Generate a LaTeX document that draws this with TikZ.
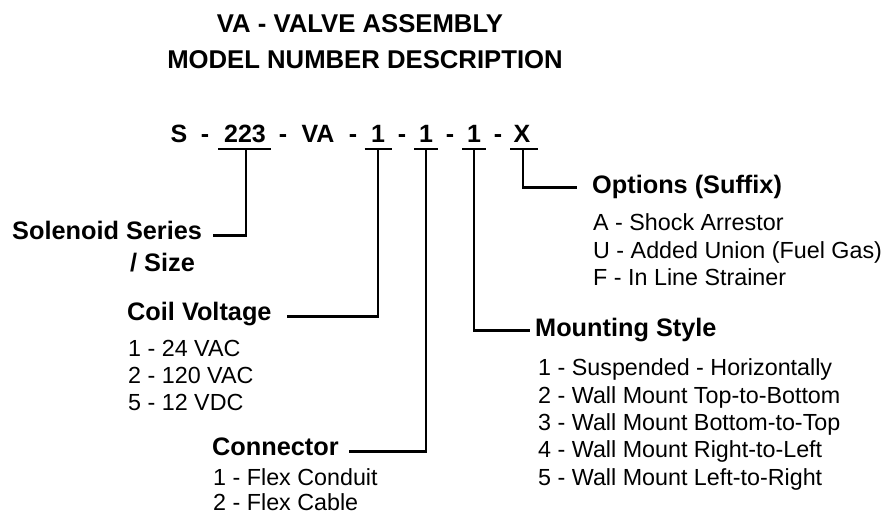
\documentclass[tikz,border=0pt]{standalone}
\usepackage{fontspec}
\setmainfont{Liberation Sans}
\begin{document}
\begin{tikzpicture}[x=1pt,y=-1pt,
  ttl/.style={font=\fontsize{25.7}{30}\bfseries\selectfont, inner sep=0pt, anchor=base},
  code/.style={font=\fontsize{25}{28}\bfseries\selectfont, inner sep=0pt, anchor=base},
  head/.style={font=\fontsize{25.3}{30}\bfseries\selectfont, inner sep=0pt, anchor=base west, text height=0.716em, text depth=0pt},
  item/.style={font=\fontsize{23.3}{27}\selectfont, inner sep=0pt, anchor=base west},
  conn/.style={line width=2.6pt, line cap=butt, line join=miter}]
\fill[white] (0,0) rectangle (885,514);
\useasboundingbox (0,0) rectangle (885,514);

% title
\node[ttl] (t1) at (360,32) {VA - VALVE ASSEMBLY};
\node[ttl] (t2) at (365,68) {MODEL NUMBER DESCRIPTION};

% model number
\node[code] (cS) at (179,142) {S};
\node[code] (d1) at (205,142) {-};
\node[code] (c223) at (245,142) {223};
\node[code] (d2) at (283,142) {-};
\node[code] (cVA) at (318,142) {VA};
\node[code] (d3) at (353,142) {-};
\node[code] (c1a) at (378,142) {1};
\node[code] (d4) at (402,142) {-};
\node[code] (c1b) at (426,142) {1};
\node[code] (d5) at (450,142) {-};
\node[code] (c1c) at (474,142) {1};
\node[code] (d6) at (498,142) {-};
\node[code] (cX) at (522,142) {X};

% tee points
\coordinate (u223) at (246,149);
\coordinate (u1a) at (378,149);
\coordinate (u1b) at (426,149);
\coordinate (u1c) at (474,149);
\coordinate (uX) at (523,149);

% headings and items
\node[head] (sol) at (12,239) {Solenoid Series};
\node[head] (size) at (130,271) {/ Size};

\node[head] (coil) at (127,320) {Coil Voltage};
\node[item] (cv1) at (128,356) {1 - 24 VAC};
\node[item] (cv2) at (128,383) {2 - 120 VAC};
\node[item] (cv3) at (128,410) {5 - 12 VDC};

\node[head] (con) at (212,455) {Connector};
\node[item] (cn1) at (213,485) {1 - Flex Conduit};
\node[item] (cn2) at (213,510.5) {2 - Flex Cable};

\node[head] (mnt) at (535,336) {Mounting Style};
\node[item] (m1) at (538,375) {1 - Suspended - Horizontally};
\node[item] (m2) at (538,403) {2 - Wall Mount Top-to-Bottom};
\node[item] (m3) at (538,430) {3 - Wall Mount Bottom-to-Top};
\node[item] (m4) at (538,457) {4 - Wall Mount Right-to-Left};
\node[item] (m5) at (538,485) {5 - Wall Mount Left-to-Right};

\node[head] (opt) at (592,193) {Options (Suffix)};
\node[item] (o1) at (593,230) {A - Shock Arrestor};
\node[item] (o2) at (593,258) {U - Added Union (Fuel Gas)};
\node[item] (o3) at (593,285) {F - In Line Strainer};

% underlines
\draw[conn] ([xshift=-28pt]u223) -- ([xshift=25pt]u223);
\draw[conn] ([xshift=-13.5pt]u1a) -- ([xshift=13.5pt]u1a);
\draw[conn] ([xshift=-12pt]u1b) -- ([xshift=12pt]u1b);
\draw[conn] ([xshift=-12pt]u1c) -- ([xshift=12pt]u1c);
\draw[conn] ([xshift=-13pt]uX) -- ([xshift=15pt]uX);

% connectors
\draw[conn] (u223) |- ([xshift=11pt]sol.east);
\draw[conn] (u1a) |- ([xshift=15pt]coil.east);
\draw[conn] (u1b) |- ([xshift=10pt]con.east);
\draw[conn] (u1c) |- ([xshift=-5pt,yshift=2pt]mnt.west);
\draw[conn] (uX) |- ([xshift=-15pt,yshift=2pt]opt.west);
\end{tikzpicture}
\end{document}
